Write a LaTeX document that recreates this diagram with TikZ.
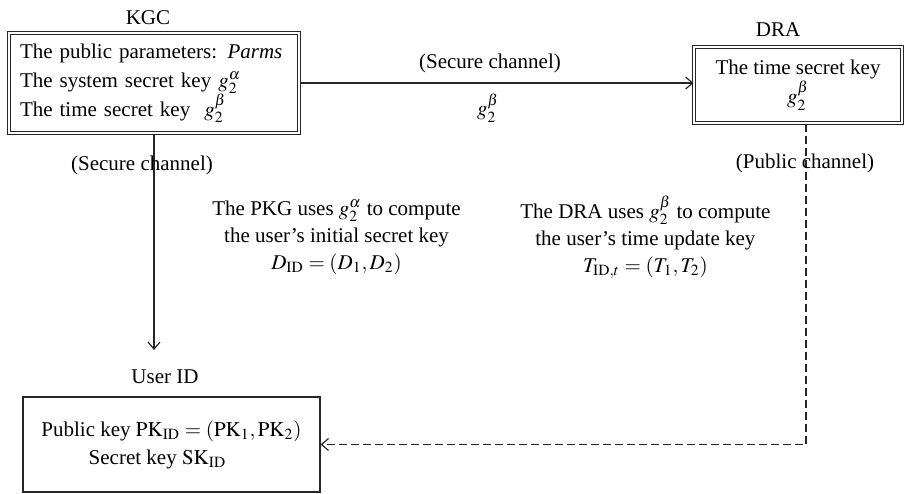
\documentclass[tikz,border=0pt]{standalone}
\usepackage{mathptmx}
\usepackage{fontspec}
\setmainfont{Liberation Serif}
\usetikzlibrary{arrows.meta}
\begin{document}
\begin{tikzpicture}[x=0.5pt,y=-0.5pt, font=\fontsize{10.5}{14.5}\selectfont,
  dbox/.style={draw=black!85, line width=0.5pt, double, double distance=1pt, inner sep=0pt},
  sbox/.style={draw=black!85, line width=0.6pt, inner sep=0pt},
  lbl/.style={inner sep=0pt},
  conn/.style={draw=black!85, line width=0.6pt, -{Straight Barb[length=3.5pt,width=6pt]}},
  dconn/.style={conn, dash pattern=on 4pt off 2pt}]
\useasboundingbox (0,0) rectangle (905,493);

% boxes
\node[dbox, minimum width=145pt, minimum height=50pt, text width=134pt, inner xsep=5.5pt, align=left] (kgc) at (154,83)
  {The public parameters: \textit{Parms}\\ The system secret key $g_2^{\alpha}$\\ The time secret key\ \ $g_2^{\beta}$};
\node[lbl] (kgclabel) at (148,18) {KGC};

\node[dbox, minimum width=104pt, minimum height=38pt, align=center] (dra) at (798,85)
  {The time secret key\\ $g_2^{\beta}$};
\node[lbl] (dralabel) at (778,30) {DRA};

\node[sbox, minimum width=148.5pt, minimum height=47.5pt, align=center, font=\fontsize{10.5}{14}\selectfont] (user) at (171.5,444.5)
  {Public key $\mathrm{PK}_{\mathrm{ID}} = (\mathrm{PK}_1, \mathrm{PK}_2)$\\ Secret key $\mathrm{SK}_{\mathrm{ID}}$\kern14pt\mbox{}};
\node[lbl] (userlabel) at (165,377) {User ID};

% KGC -> DRA
\draw[conn] (kgc.east) -- (kgc.east -| dra.west);
\node[lbl] (sc1) at (490,63) {(Secure channel)};
\node[lbl] (gb) at (488,108) {$g_2^{\beta}$};

% KGC -> User
\coordinate (uend) at (154,350);
\draw[conn] (kgc.south) -- (uend);
\node[lbl] (sc2) at (142,165) {(Secure channel)};
\node[lbl, align=center, anchor=west, font=\fontsize{10.5}{13.5}\selectfont] (pkg) at (212,237)
  {The PKG uses $g_2^{\alpha}$ to compute\\ the user's initial secret key\\ $D_{\mathrm{ID}} = (D_1, D_2)$};

% DRA -> User
\node[lbl, align=center, anchor=west, font=\fontsize{10.5}{13.5}\selectfont] (drat) at (520,237)
  {The DRA uses $g_2^{\beta}$ to compute\\ the user's time update key\\ $T_{\mathrm{ID},t} = (T_1, T_2)$};
\coordinate (corner) at (806,444.5);
\draw[dconn] (dra.south -| corner) -- (corner) -- (user.east);
\node[lbl] (pc) at (805,163) {(Public channel)};
\end{tikzpicture}
\end{document}
